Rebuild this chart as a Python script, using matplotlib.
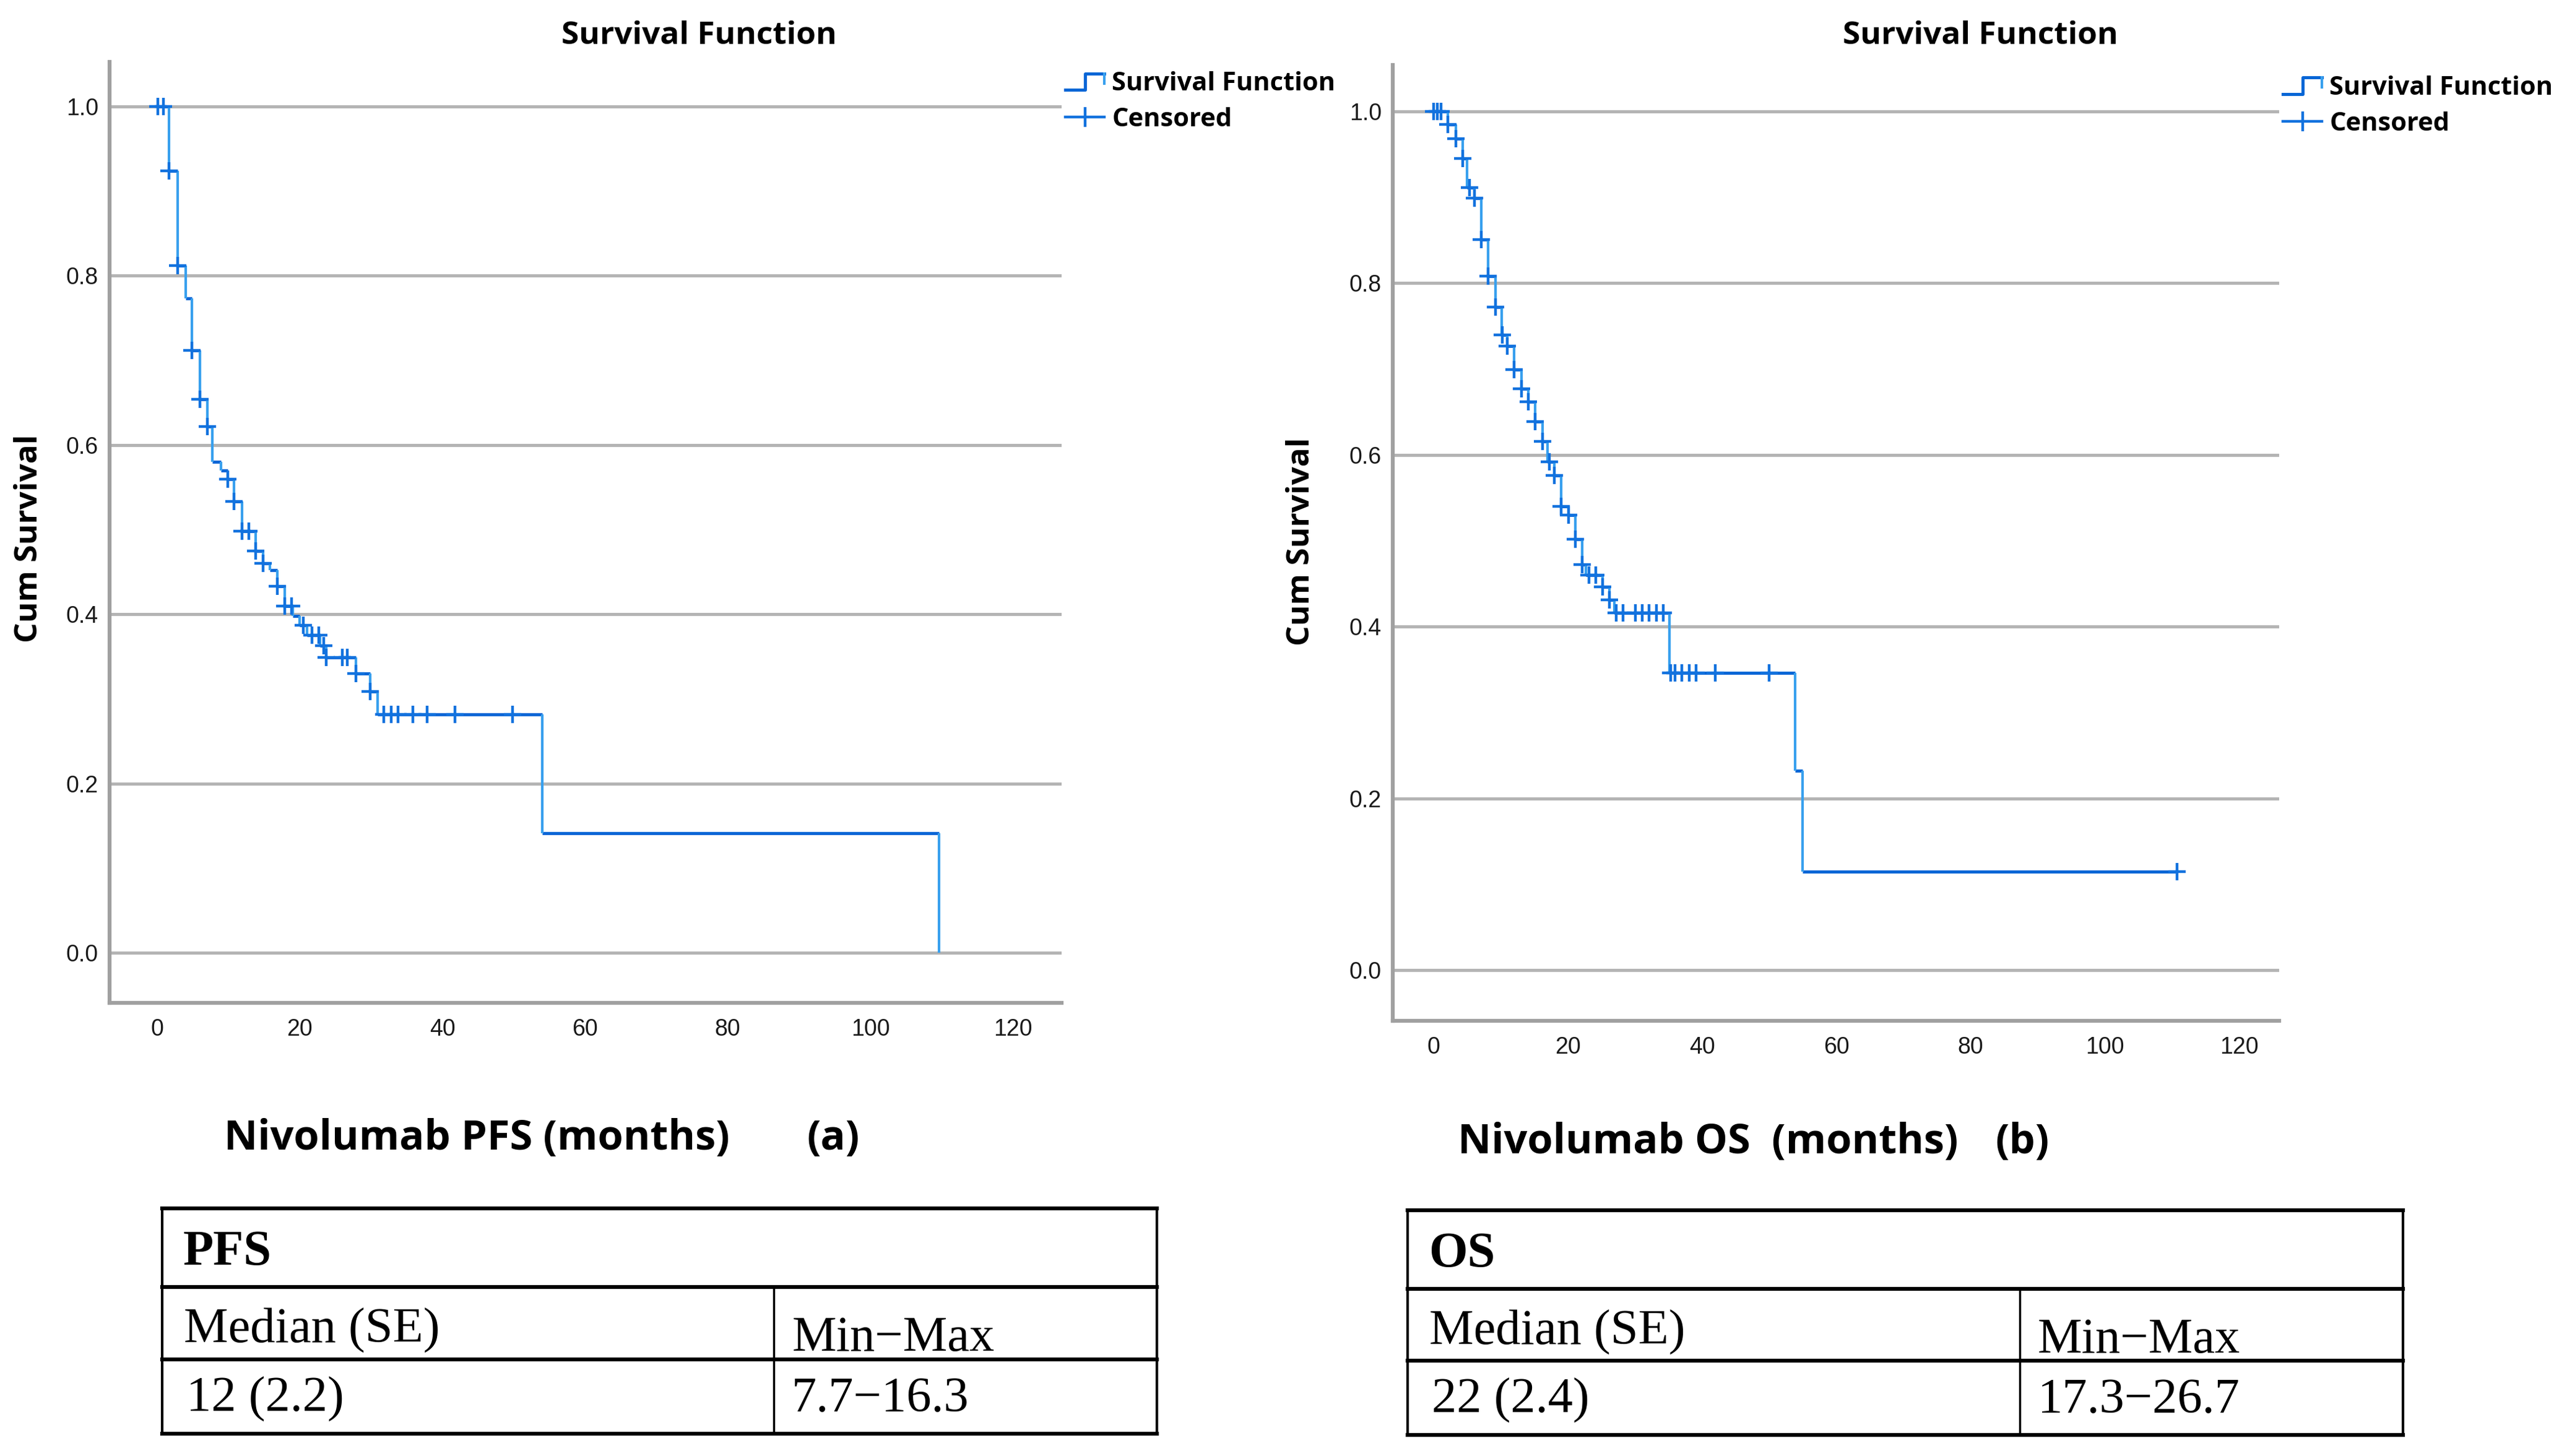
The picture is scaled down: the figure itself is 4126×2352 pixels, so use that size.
import matplotlib.pyplot as plt
import numpy as np
from matplotlib.lines import Line2D
from matplotlib.legend_handler import HandlerBase
from matplotlib.ticker import FormatStrFormatter

# PFS Kaplan-Meier steps (months, cumulative survival after the step)
pfs_time = [0, 1.7, 2.9, 4.0, 4.9, 6.0, 7.1, 7.8, 9.0, 9.9, 10.8, 11.9, 13.8, 14.9,
            15.8, 16.9, 17.9, 19.0, 20.0, 21.0, 22.9, 23.7, 27.9, 29.9, 30.9, 54.0, 109.6]
pfs_surv = [1.0, 0.924, 0.812, 0.773, 0.712, 0.654, 0.622, 0.580, 0.570, 0.560, 0.533,
            0.498, 0.475, 0.460, 0.452, 0.433, 0.410, 0.398, 0.387, 0.375, 0.363, 0.349,
            0.330, 0.309, 0.282, 0.141, 0.0]
pfs_end = 109.6
pfs_censored = [0.1, 0.9, 1.7, 2.9, 4.9, 6.0, 7.1, 9.9, 10.8, 11.9, 12.9, 13.8, 14.9,
                16.9, 17.9, 18.9, 20.5, 21.7, 22.7, 23.4, 23.7, 26.0, 26.7, 27.9, 29.9,
                31.8, 32.8, 33.8, 35.9, 37.9, 41.8, 49.8]

# OS Kaplan-Meier steps
os_time = [0, 2.1, 3.3, 4.3, 5.0, 6.1, 7.1, 8.1, 9.2, 10.1, 11.0, 12.0, 13.1, 14.1,
           15.1, 16.2, 17.0, 18.0, 19.0, 20.1, 21.1, 22.1, 22.7, 25.2, 26.2, 26.9,
           35.1, 53.9, 55.0]
os_surv = [1.0, 0.985, 0.968, 0.945, 0.911, 0.899, 0.851, 0.808, 0.772, 0.740, 0.727,
           0.699, 0.677, 0.662, 0.639, 0.616, 0.592, 0.576, 0.540, 0.530, 0.502, 0.472,
           0.460, 0.446, 0.431, 0.416, 0.346, 0.232, 0.115]
os_end = 110.8
os_censored = [0.0, 0.5, 1.1, 2.1, 3.3, 4.3, 5.3, 6.1, 7.1, 8.1, 9.2, 10.2, 11.0, 12.0,
               13.1, 14.1, 15.1, 16.2, 17.2, 18.0, 19.0, 20.1, 21.1, 22.1, 23.1, 24.2,
               25.2, 26.2, 27.2, 28.2, 30.1, 31.1, 32.1, 33.2, 34.2, 35.3, 36.0, 37.0,
               38.1, 39.1, 42.0, 50.0, 110.8]

x_ticks = [0, 20, 40, 60, 80, 100, 120]
y_ticks = [0.0, 0.2, 0.4, 0.6, 0.8, 1.0]

# summary tables
pfs_table = ["PFS", "Median (SE)", "Min\u2212Max", "12 (2.2)", "7.7\u221216.3"]
os_table = ["OS", "Median (SE)", "Min\u2212Max", "22 (2.4)", "17.3\u221226.7"]

DARK = "#0866d6"
LIGHT = "#38a0ee"
MID = "#1272de"
SANS = "Open Sans"

W, H = 4126, 2352
fig = plt.figure(figsize=(W / 100, H / 100), dpi=100)


def px_rect(left, top, right, bottom):
    return [left / W, 1 - bottom / H, (right - left) / W, (bottom - top) / H]


class StepHandler(HandlerBase):
    def create_artists(self, legend, orig_handle, xdescent, ydescent, width, height,
                       fontsize, trans):
        x0 = -xdescent
        y0 = -ydescent
        xm = x0 + width * 0.5
        x1 = x0 + width
        lo = y0 + height * 0.05
        hi = y0 + height * 0.95
        a = Line2D([x0, xm, xm, x1], [lo, lo, hi, hi], color=DARK, lw=3.6, transform=trans)
        b = Line2D([x1, x1], [hi, y0 + height * 0.4], color=LIGHT, lw=3.0, transform=trans)
        return [a, b]


def km_panel(ax, times, surv, end, censored, xlim, ylim, legend_top):
    t = np.array(times + [end])
    s = np.array(surv)
    ax.hlines(s, t[:-1], t[1:], color=DARK, lw=3.6, zorder=3)
    ax.vlines(t[1:-1], s[1:], s[:-1], color=LIGHT, lw=3.0, zorder=3)
    c = np.array(censored)
    idx = np.searchsorted(np.array(times), c, side="right") - 1
    ax.plot(c, s[idx], linestyle="none", marker="+", ms=20, mew=3.2, color=MID, zorder=4)

    ax.set_xlim(*xlim)
    ax.set_ylim(*ylim)
    ax.set_xticks(x_ticks)
    ax.set_yticks(y_ticks)
    ax.yaxis.set_major_formatter(FormatStrFormatter("%.1f"))
    ax.yaxis.grid(True, color="#b4b4b4", lw=3.6)
    ax.set_axisbelow(True)
    for side in ["top", "right"]:
        ax.spines[side].set_visible(False)
    for side in ["left", "bottom"]:
        ax.spines[side].set_color("#a0a0a0")
        ax.spines[side].set_linewidth(4.5)
    ax.tick_params(axis="both", length=0, labelsize=27, labelcolor="#1a1a1a")
    ax.tick_params(axis="x", pad=18)
    ax.tick_params(axis="y", pad=13)
    for lab in ax.get_xticklabels() + ax.get_yticklabels():
        lab.set_family("Liberation Sans")

    step_h = Line2D([], [])
    cens_h = Line2D([], [], color=MID, lw=3.2, marker="|", ms=23, mew=3.2)
    ax.legend([step_h, cens_h], ["Survival Function", "Censored"],
              handler_map={step_h: StepHandler()}, loc="upper left",
              bbox_to_anchor=(1.0, legend_top), frameon=False, numpoints=1,
              prop={"family": SANS, "weight": "bold", "size": 30},
              handlelength=1.5, handletextpad=0.3, borderaxespad=0,
              borderpad=0.15, labelspacing=0.4)


def draw_table(rect, cells):
    tax = fig.add_axes(rect)
    tax.set_xlim(0, 1)
    tax.set_ylim(0, 1)
    tax.axis("off")
    r1, r2, col = 0.65, 0.33, 0.615
    for y in [0, r2, r1, 1]:
        tax.axhline(y, color="black", lw=4.5, clip_on=False)
    tax.axvline(0, color="black", lw=3, clip_on=False)
    tax.axvline(1, color="black", lw=3, clip_on=False)
    tax.axvline(col, ymin=0, ymax=r1, color="black", lw=2.5, clip_on=False)
    serif = "Liberation Serif"
    tax.text(0.021, 0.75, cells[0], family=serif, weight="bold", size=58, va="baseline")
    tax.text(0.022, 0.404, cells[1], family=serif, size=58, va="baseline")
    tax.text(0.633, 0.367, cells[2], family=serif, size=58, va="baseline")
    tax.text(0.024, 0.10, cells[3], family=serif, size=58, va="baseline")
    tax.text(0.633, 0.10, cells[4], family=serif, size=58, va="baseline")


ax_a = fig.add_axes(px_rect(177, 100, 1715, 1620))
km_panel(ax_a, pfs_time, pfs_surv, pfs_end, pfs_censored, (-6.64, 126.8), (-0.059, 1.0525),
         0.994)

ax_b = fig.add_axes(px_rect(2250, 105, 3682, 1649))
km_panel(ax_b, os_time, os_surv, os_end, os_censored, (-6.1, 126.0), (-0.059, 1.054), 0.993)

# titles and axis labels
title_kw = dict(family=SANS, weight="bold", size=37, ha="center", va="center")
fig.text(1129 / W, 1 - 58 / H, "Survival Function", **title_kw)
fig.text(3199 / W, 1 - 58 / H, "Survival Function", **title_kw)
fig.text(47 / W, 1 - 870 / H, "Cum Survival", rotation=90, **title_kw)
fig.text(2102 / W, 1 - 875 / H, "Cum Survival", rotation=90, **title_kw)

xlab_kw = dict(family=SANS, weight="bold", size=48, va="center")
fig.text(362 / W, 1 - 1840 / H, "Nivolumab PFS (months)", ha="left", **xlab_kw)
fig.text(1346 / W, 1 - 1840 / H, "(a)", ha="center", **xlab_kw)
fig.text(2355 / W, 1 - 1845 / H, "Nivolumab OS  (months)", ha="left", **xlab_kw)
fig.text(3267 / W, 1 - 1845 / H, "(b)", ha="center", **xlab_kw)

draw_table(px_rect(262, 1952, 1869, 2316), pfs_table)
draw_table(px_rect(2274, 1955, 3882, 2318), os_table)

fig.savefig("out.png", dpi=100, facecolor="white")
plt.close(fig)
